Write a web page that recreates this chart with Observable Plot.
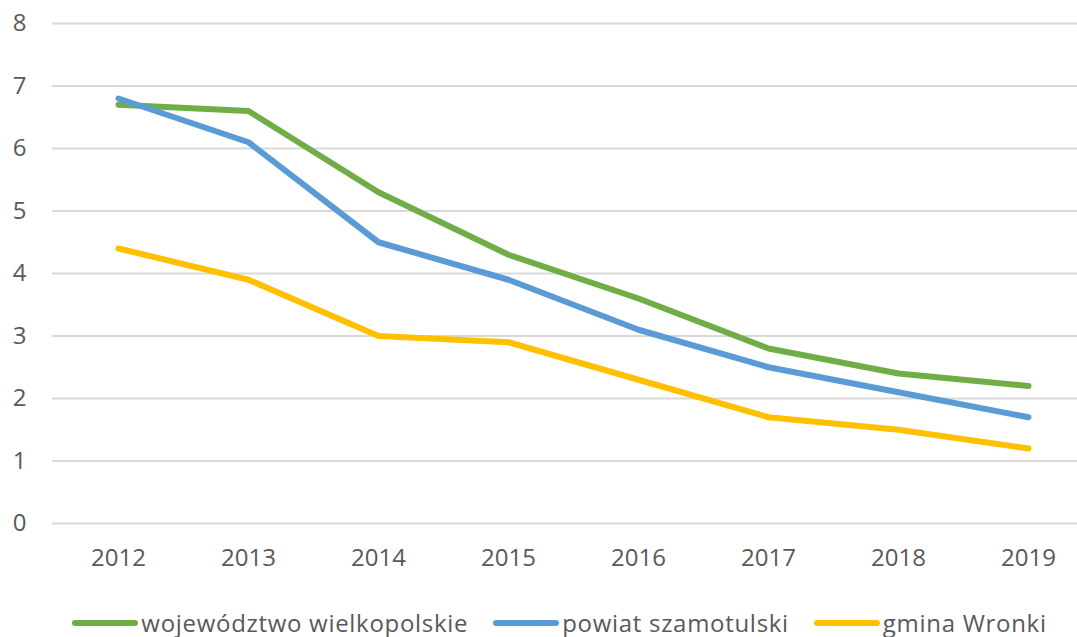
<!DOCTYPE html>
<html><head><meta charset="utf-8">
<script src="https://cdn.jsdelivr.net/npm/d3@7"></script>
<script src="https://cdn.jsdelivr.net/npm/@observablehq/plot@0.6"></script>
<style>
body{margin:0;background:#fff;font-family:"Open Sans",sans-serif;overflow:hidden;}
#legend{display:flex;justify-content:center;align-items:center;padding-left:42px;margin-top:13px;font-size:24px;color:#595959;line-height:30px;letter-spacing:0.7px;}
.item{display:flex;align-items:center;margin-right:25px;white-space:nowrap;}
.item:last-child{margin-right:0}
.sw{width:66px;height:6px;border-radius:3px;margin-right:3px;}
</style></head>
<body><div id="chart"></div><div id="legend"></div>
<script>
const years = [2012, 2013, 2014, 2015, 2016, 2017, 2018, 2019];
const seriesNames = ["województwo wielkopolskie", "powiat szamotulski", "gmina Wronki"];
const wojewodztwo = [6.7, 6.6, 5.3, 4.3, 3.6, 2.8, 2.4, 2.2];
const powiat = [6.8, 6.1, 4.5, 3.9, 3.1, 2.5, 2.1, 1.7];
const gmina = [4.4, 3.9, 3.0, 2.9, 2.3, 1.7, 1.5, 1.2];
const colors = ["#70AD47", "#5B9BD5", "#FFC000"];
const yTicks = [0, 1, 2, 3, 4, 5, 6, 7, 8];

const allSeries = [wojewodztwo, powiat, gmina];
const data = [];
allSeries.forEach((vals, si) => vals.forEach((v, i) => data.push({year: String(years[i]), value: v, series: seriesNames[si]})));

const chart = Plot.plot({
  width: 1077, height: 595,
  marginLeft: 52, marginRight: 0, marginTop: 23, marginBottom: 72,
  style: {fontFamily: "'Open Sans', sans-serif", fontSize: "24px", color: "#595959", background: "#fff"},
  x: {type: "point", domain: years.map(String), range: [117, 1028], padding: 0, label: null},
  y: {domain: [0, 8], ticks: yTicks, label: null},
  color: {domain: seriesNames, range: colors},
  marks: [
    Plot.ruleY(yTicks, {stroke: "#D9D9D9", strokeWidth: 2}),
    Plot.axisY({ticks: yTicks, tickSize: 0, tickPadding: 26, label: null, fill: "#595959"}),
    Plot.axisX({tickSize: 0, tickPadding: 25, label: null, fill: "#595959"}),
    Plot.line(data, {x: "year", y: "value", z: "series", stroke: "series", strokeWidth: 6, strokeLinecap: "round", strokeLinejoin: "round"})
  ]
});
document.getElementById("chart").appendChild(chart);

const leg = document.getElementById("legend");
seriesNames.forEach((n, i) => {
  const it = document.createElement("div"); it.className = "item";
  const sw = document.createElement("div"); sw.className = "sw"; sw.style.background = colors[i];
  const t = document.createElement("span"); t.textContent = n;
  it.appendChild(sw); it.appendChild(t); leg.appendChild(it);
});
</script></body></html>
